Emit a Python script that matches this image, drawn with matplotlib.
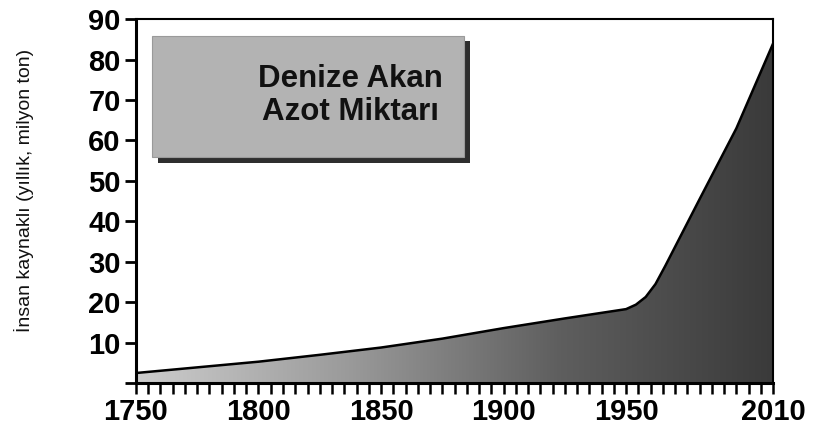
import numpy as np
import matplotlib
matplotlib.use("Agg")
from matplotlib import pyplot as plt
from matplotlib.colors import LinearSegmentedColormap
from matplotlib.patches import Polygon, Rectangle

# veriler (resimden okunan yaklaşık değerler)
years = [1750, 1775, 1800, 1825, 1850, 1875, 1900, 1925, 1950, 1954, 1958, 1962, 1966, 1980, 1995, 2010]
values = [2.5, 3.9, 5.3, 7.0, 8.8, 11.0, 13.6, 16.0, 18.3, 19.4, 21.3, 24.5, 29.0, 45.5, 63.0, 84.0]

x_labels = [1750, 1800, 1850, 1900, 1950, 2010]
y_labels = [10, 20, 30, 40, 50, 60, 70, 80, 90]
title_text = "Denize Akan\nAzot Miktarı"
y_title = "İnsan kaynaklı (yıllık, milyon ton)"

plt.rcParams['font.family'] = ['Liberation Sans', 'DejaVu Sans']

fig = plt.figure(figsize=(8.19, 4.30), dpi=100)
ax = fig.add_axes([0.166, 0.109, 0.778, 0.8465])

ax.set_xlim(1750, 2010)
ax.set_ylim(0, 90)

# gri geçişli dolgu
cmap = LinearSegmentedColormap.from_list("gri", ["#cdcdcd", "#9a9a9a", "#5e5e5e", "#3a3a3a"])
grad = np.linspace(0, 1, 256).reshape(1, -1)
im = ax.imshow(grad, extent=[1750, 2010, 0, 90], aspect='auto', cmap=cmap,
               origin='lower', zorder=1, interpolation='bilinear')
verts = list(zip(years, values)) + [(years[-1], 0), (years[0], 0)]
clip = Polygon(verts, closed=True, transform=ax.transData, facecolor='none', edgecolor='none')
ax.add_patch(clip)
im.set_clip_path(clip)

ax.plot(years, values, color='black', lw=1.8, zorder=3, solid_joinstyle='round')

# eksenler
for side in ['left', 'bottom']:
    ax.spines[side].set_linewidth(2.2)
for side in ['top', 'right']:
    ax.spines[side].set_linewidth(1.5)
for s in ax.spines.values():
    s.set_zorder(4)

ax.set_xticks(x_labels)
ax.set_xticks(range(1750, 2011, 5), minor=True)
ax.set_yticks([0] + y_labels)
ax.set_yticklabels([""] + [str(v) for v in y_labels])
ax.tick_params(axis='both', which='both', direction='out', length=8, width=2)
ax.tick_params(axis='x', which='both', length=8, width=1.8)
ax.tick_params(axis='both', which='major', labelsize=21, pad=3)
for lab in ax.get_xticklabels() + ax.get_yticklabels():
    lab.set_fontweight('bold')

ax.set_ylabel(y_title, fontsize=14, color='#111111')
ax.yaxis.set_label_coords(-0.16, 0.53)

# başlık kutusu (gölgeli)
shadow = Rectangle((0.035, 0.605), 0.49, 0.335, transform=ax.transAxes,
                   facecolor='#2e2e2e', edgecolor='none', zorder=5)
box = Rectangle((0.025, 0.62), 0.49, 0.335, transform=ax.transAxes,
                facecolor='#b3b3b3', edgecolor='#9a9a9a', lw=0.8, zorder=6)
ax.add_patch(shadow)
ax.add_patch(box)
ax.text(0.337, 0.79, title_text, transform=ax.transAxes, ha='center', va='center',
        fontsize=22.5, fontweight='bold', color='#111111', linespacing=1.15, zorder=7)

fig.savefig("out.png", dpi=100)
